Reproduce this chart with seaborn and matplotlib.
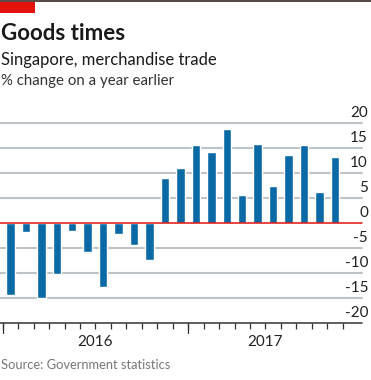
import matplotlib
matplotlib.use("Agg")
import matplotlib.pyplot as plt
import matplotlib.transforms as mtransforms
import seaborn as sns
import pandas as pd

months = ["Jan 2016", "Feb 2016", "Mar 2016", "Apr 2016", "May 2016", "Jun 2016",
          "Jul 2016", "Aug 2016", "Sep 2016", "Oct 2016", "Nov 2016", "Dec 2016",
          "Jan 2017", "Feb 2017", "Mar 2017", "Apr 2017", "May 2017", "Jun 2017",
          "Jul 2017", "Aug 2017", "Sep 2017", "Oct 2017"]
values = [-14.5, -1.9, -15.1, -10.3, -1.7, -5.9, -12.9, -2.3, -4.5, -7.5,
          9.0, 11.0, 15.5, 14.2, 18.7, 5.5, 15.7, 7.3, 13.5, 15.5, 6.1, 13.1]
year_labels = ["2016", "2017"]
ytick_values = [20, 15, 10, 5, 0, -5, -10, -15, -20]

df = pd.DataFrame({"month": months, "value": values})

sns.set_theme(style="white")
plt.rcParams["font.family"] = ["Lato", "DejaVu Sans"]

W, H = 371, 380
fig = plt.figure(figsize=(W / 100, H / 100), dpi=100)

ax_left, ax_right = 0 / W, 362 / W
ax_top, ax_bottom = 1 - 122.5 / H, 1 - 322.5 / H
ax = fig.add_axes([ax_left, ax_bottom, ax_right - ax_left, ax_top - ax_bottom])

blue = "#0b6aa6"
sns.barplot(data=df, x="month", y="value", color=blue, width=0.55,
            saturation=1, ax=ax, zorder=3)

ax.set_xlim(-0.675, 22.75)
ax.set_ylim(-20, 20)

for v in ytick_values:
    if v == 0:
        ax.axhline(v, color="#e3120b", lw=1.1, zorder=4, clip_on=False)
    elif v == -20:
        ax.axhline(v, color="#333333", lw=1.1, zorder=4, clip_on=False)
    else:
        ax.axhline(v, color="#bcc4ca", lw=1.5, zorder=2, clip_on=False)

for s in ax.spines.values():
    s.set_visible(False)
ax.set_xlabel("")
ax.set_ylabel("")
ax.set_yticks([])

n = len(months)
bounds = [i - 0.5 for i in range(n + 1)]
ax.set_xticks(bounds)
ax.set_xticklabels([])
ax.tick_params(axis="x", length=4.5, width=0.9, color="#333333", direction="out", pad=2, bottom=True)
tr_tick = mtransforms.blended_transform_factory(ax.transData, fig.transFigure)
for i in (0, 12):
    b = bounds[i]
    ax.plot([b, b], [1 - 323 / H, 1 - 333 / H], transform=tr_tick, color="#333333",
            lw=0.9, clip_on=False)

# year labels
for xpos, lab in zip([5.5, 16.5], year_labels):
    ax.text(xpos, 1 - 342 / H, lab, transform=tr_tick, ha="center", va="center",
            fontsize=11, color="#222222")

# y labels on right, above gridlines
tr_y = mtransforms.blended_transform_factory(fig.transFigure, ax.transData)
for v in ytick_values:
    ax.text(368 / W, v + 0.45, f"{v}", transform=tr_y, ha="right", va="bottom",
            fontsize=11, color="#222222")

# header
fig.add_artist(plt.Rectangle((0, 1 - 2 / H), 1, 2 / H, transform=fig.transFigure,
                             color="#5a4a4a", lw=0))
fig.add_artist(plt.Rectangle((0, 1 - 13 / H), 35 / W, 11 / H, transform=fig.transFigure,
                             color="#e3120b", lw=0))
fig.text(1 / W, 1 - 33 / H, "Goods times", fontsize=16, fontweight="bold",
         color="#1a1a1a", ha="left", va="center")
fig.text(1 / W, 1 - 60 / H, "Singapore, merchandise trade", fontsize=12,
         color="#1a1a1a", ha="left", va="center")
fig.text(1 / W, 1 - 81 / H, "% change on a year earlier", fontsize=10.8,
         color="#333333", ha="left", va="center")
fig.text(1 / W, 1 - 365 / H, "Source: Government statistics", fontsize=9.3,
         color="#777777", ha="left", va="center")

fig.savefig("out.png", dpi=100, facecolor="white")
